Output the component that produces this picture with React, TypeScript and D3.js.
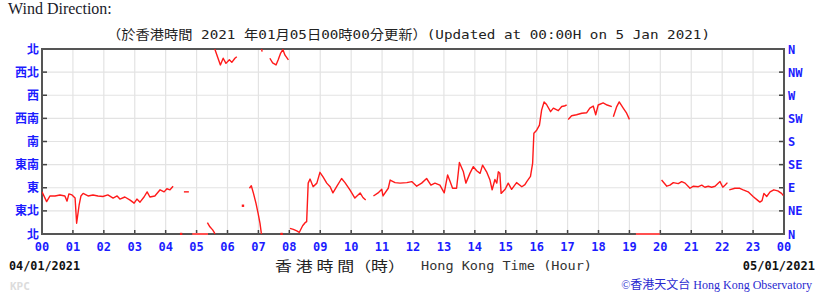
import React from "react";
import * as d3 from "d3";

// ---- data (hours since 00:00 04/01/2021, wind direction in degrees; null = gap) ----
const windHours: (number | null)[] = [
  0, 0.15, 0.26, 0.42, 0.58, 0.74, 0.81, 0.87, 0.97, 1.07, 1.12, 1.2, 1.26, 1.33, 1.49, 1.65, 1.81, 1.97,
  2.13, 2.3, 2.43, 2.52, 2.68, 2.85, 2.98, 3.07, 3.17, 3.3, 3.4, 3.49, 3.65, 3.82, 3.95, 4.04, 4.14, 4.24, null,
  4.59, 4.75, null,
  5.35, 5.43, 5.52, 5.58, 5.6, 5.77, 5.86, 5.95, 6.06, 6.14, 6.24, 6.3, null,
  6.5, null,
  6.71, 6.77, 6.84, 6.92, 6.99, 7.05, 7.09, 7.12, null,
  7.37, 7.46, 7.57, 7.64, 7.72, 7.79, 7.86, 7.97, null,
  8.02, 8.13, 8.24, 8.32, 8.43, 8.51, 8.56, 8.61, 8.67, 8.77, 8.89, 8.99, 9.09, 9.21, 9.32, 9.41, 9.53, 9.69,
  9.8, 9.96, 10.12, 10.29, 10.38, 10.47, null,
  10.72, 10.87, 10.99, 11.03, 11.2, 11.26, 11.42, 11.58, 11.8, 11.96, 12.12, 12.28, 12.44, 12.58, 12.71, 12.87,
  13.01, 13.12, 13.2, 13.28, 13.41, 13.5, 13.63, 13.71, 13.84, 13.95, 14.06, 14.17, 14.25, 14.38, 14.49, 14.56,
  14.65, 14.71, 14.76, 14.81, 14.85, 14.98, 15.08, 15.19, 15.35, 15.52, 15.62, 15.68, 15.8, 15.87, 15.91, 16.0,
  16.09, 16.16, 16.24, 16.32, 16.45, 16.54, 16.7, 16.81, 16.89, 16.97, null,
  17.02, 17.13, 17.29, 17.46, 17.62, 17.72, 17.83, 17.91, 17.99, 18.15, 18.28, 18.43, null,
  18.48, 18.59, 18.67, 18.8, 18.91, 19.0, null,
  20.04, 20.21, 20.31, 20.42, 20.58, 20.69, 20.8, 20.96, 21.07, 21.23, 21.34, 21.44, 21.55, 21.66, 21.77, 21.93,
  22.02, 22.09, 22.17, null,
  22.23, 22.41, 22.57, 22.68, 22.84, 23.0, 23.16, 23.22, 23.29, 23.35, 23.44, 23.55, 23.67, 23.8, 23.92, 23.98,
];

const windDirs: (number | null)[] = [
  82, 63, 74, 74, 76, 74, 64, 78, 76, 70, 21, 56, 74, 79, 74, 76, 74, 73,
  76, 70, 74, 68, 72, 66, 60, 68, 62, 72, 82, 72, 74, 86, 82, 88, 86, 93, null,
  82, 82, null,
  22, 14, 8, 2, 358, 329, 342, 332, 339, 334, 342, 345, null,
  55, null,
  89, 94, 79, 60, 40, 21, 3, 355, null,
  342, 333, 329, 339, 352, 359, 348, 339, null,
  11, 9, 6, 3, 16, 22, 24, 99, 107, 92, 99, 120, 111, 99, 92, 80, 92, 108,
  100, 86, 70, 80, 71, 66, null,
  74, 80, 87, 74, 89, 105, 100, 99, 100, 102, 93, 99, 108, 95, 99, 95,
  80, 115, 102, 89, 89, 139, 121, 99, 118, 131, 123, 118, 134, 121, 105, 86,
  106, 99, 121, 118, 79, 87, 99, 87, 100, 92, 96, 102, 112, 138, 196, 202,
  212, 241, 257, 252, 238, 245, 240, 248, 249, 251, null,
  223, 230, 232, 235, 236, 245, 249, 232, 251, 255, 251, 248, null,
  228, 248, 257, 245, 235, 223, null,
  105, 93, 95, 100, 98, 102, 99, 89, 93, 92, 95, 91, 93, 91, 93, 102,
  91, 95, 100, null,
  86, 89, 89, 86, 82, 73, 65, 62, 65, 79, 73, 82, 86, 84, 79, 75,
];

// calm periods (plotted on the 0° line)
const calmStart = [4.5, 4.86, 7.75, 19.21];
const calmEnd = [4.5, 5.37, 7.75, 19.98];

const hourLabels = [
  "00", "01", "02", "03", "04", "05", "06", "07", "08", "09", "10", "11",
  "12", "13", "14", "15", "16", "17", "18", "19", "20", "21", "22", "23", "00",
];
const dirDegrees = [0, 45, 90, 135, 180, 225, 270, 315, 360];
const dirLabelsZh = ["北", "東北", "東", "東南", "南", "西南", "西", "西北", "北"];
const dirLabelsEn = ["N", "NE", "E", "SE", "S", "SW", "W", "NW", "N"];

const W = 820;
const H = 297;
const L = 42, R = 784, T = 49, B = 234;

type P = [number, number];

function buildSegments(): P[][] {
  const segs: P[][] = [];
  let cur: P[] = [];
  for (let i = 0; i < windHours.length; i++) {
    const h = windHours[i];
    const v = windDirs[i];
    if (h == null || v == null) {
      if (cur.length) segs.push(cur);
      cur = [];
    } else cur.push([h, v]);
  }
  if (cur.length) segs.push(cur);
  return segs;
}

function splitWrap(seg: P[]): P[][] {
  const pieces: P[][] = [];
  let cur: P[] = [seg[0]];
  for (let i = 1; i < seg.length; i++) {
    const p = seg[i - 1];
    const q = seg[i];
    if (q[1] - p[1] > 180) {
      const qv = q[1] - 360;
      const t = p[1] / (p[1] - qv);
      const hm = p[0] + t * (q[0] - p[0]);
      cur.push([hm, 0]);
      pieces.push(cur);
      cur = [[hm, 360], q];
    } else if (p[1] - q[1] > 180) {
      const qv = q[1] + 360;
      const t = (360 - p[1]) / (qv - p[1]);
      const hm = p[0] + t * (q[0] - p[0]);
      cur.push([hm, 360]);
      pieces.push(cur);
      cur = [[hm, 0], q];
    } else cur.push(q);
  }
  pieces.push(cur);
  return pieces;
}

export default function App() {
  const x = d3.scaleLinear().domain([0, 24]).range([L, R]);
  const y = d3.scaleLinear().domain([0, 360]).range([B, T]);
  const line = d3
    .line<P>()
    .x((d) => x(d[0]))
    .y((d) => y(d[1]));

  const segs = buildSegments();
  const hours = d3.range(0, 25);
  const blue = "#1c1cff";

  return (
    <svg
      width={W}
      height={H}
      style={{ position: "absolute", left: 0, top: 0, background: "#fff" }}
    >
      <defs>
        <clipPath id="plotClip">
          <rect x={L} y={T - 1} width={R - L} height={B - T + 2} />
        </clipPath>
      </defs>

      <text x={8} y={14} fontFamily="'Liberation Serif', 'Times New Roman', serif" fontSize={16} fill="#1a1a2a">
        Wind Direction:
      </text>
      <text
        x={107}
        y={39}
        fontFamily="'DejaVu Sans Mono', 'Noto Sans CJK TC', monospace"
        fontSize={13}
        fill="#222"
        textLength={603}
        lengthAdjust="spacingAndGlyphs"
      >
        （於香港時間 2021 年01月05日00時00分更新）(Updated at 00:00H on 5 Jan 2021)
      </text>

      {/* grid */}
      {hours.slice(1, 24).map((h) => (
        <line key={"gv" + h} x1={x(h)} x2={x(h)} y1={T} y2={B} stroke="#e3e3e3" strokeWidth={1.2} />
      ))}
      {dirDegrees.slice(1, 8).map((d) => (
        <line key={"gh" + d} x1={L} x2={R} y1={y(d)} y2={y(d)} stroke="#e3e3e3" strokeWidth={1.2} />
      ))}

      {/* ticks */}
      {dirDegrees.slice(1, 8).map((d) => (
        <g key={"t" + d}>
          <line x1={L} x2={L + 5} y1={y(d)} y2={y(d)} stroke="#444" strokeWidth={1.5} />
          <line x1={R - 5} x2={R} y1={y(d)} y2={y(d)} stroke="#444" strokeWidth={1.5} />
        </g>
      ))}
      {hours.slice(1, 24).map((h) => (
        <line key={"tb" + h} x1={x(h)} x2={x(h)} y1={B} y2={B - 4} stroke="#444" strokeWidth={1.5} />
      ))}

      {/* frame */}
      <rect x={L} y={T} width={R - L} height={B - T} fill="none" stroke="#555" strokeWidth={2} />

      {/* data */}
      <g clipPath="url(#plotClip)">
        {segs.map((seg, i) =>
          seg.length === 1 ? (
            <rect
              key={"d" + i}
              x={x(seg[0][0]) - 1.2}
              y={y(seg[0][1]) - 1.2}
              width={2.4}
              height={2.4}
              fill="#ff1a1a"
            />
          ) : (
            splitWrap(seg).map((pc, j) => (
              <path key={"s" + i + "_" + j} d={line(pc) || ""} fill="none" stroke="#ff1a1a" strokeWidth={1.4} strokeLinejoin="round" />
            ))
          )
        )}
        {calmStart.map((s, i) =>
          s === calmEnd[i] ? (
            <rect key={"c" + i} x={x(s) - 1.2} y={y(0) - 1.2} width={2.4} height={2.4} fill="#ff1a1a" />
          ) : (
            <line key={"c" + i} x1={x(s)} x2={x(calmEnd[i])} y1={y(0)} y2={y(0)} stroke="#ff5050" strokeWidth={2} />
          )
        )}
      </g>

      {/* axis labels */}
      {dirDegrees.map((d, i) => (
        <text
          key={"zl" + i}
          x={39}
          y={y(d) + 4.5}
          textAnchor="end"
          fontFamily="'Noto Sans CJK TC', sans-serif"
          fontWeight="bold"
          fontSize={12}
          fill={blue}
        >
          {dirLabelsZh[i]}
        </text>
      ))}
      {dirDegrees.map((d, i) => (
        <text
          key={"el" + i}
          x={788}
          y={y(d) + 4.5}
          fontFamily="'DejaVu Sans Mono', monospace"
          fontWeight="bold"
          fontSize={12}
          fill={blue}
        >
          {dirLabelsEn[i]}
        </text>
      ))}
      {hours.map((h) => (
        <text
          key={"hl" + h}
          x={x(h)}
          y={251}
          textAnchor="middle"
          fontFamily="'DejaVu Sans Mono', monospace"
          fontWeight="bold"
          fontSize={12}
          fill={blue}
        >
          {hourLabels[h]}
        </text>
      ))}

      <text x={9} y={269.5} fontFamily="'DejaVu Sans Mono', monospace" fontWeight="bold" fontSize={12} fill="#111" textLength={71} lengthAdjust="spacingAndGlyphs">
        04/01/2021
      </text>
      <text x={815} y={269.5} textAnchor="end" fontFamily="'DejaVu Sans Mono', monospace" fontWeight="bold" fontSize={12} fill="#111">
        05/01/2021
      </text>
      <text x={275} y={271} fontFamily="'Noto Sans CJK TC', serif" fontSize={14} fill="#222" textLength={130} lengthAdjust="spacingAndGlyphs">
        香 港 時 間（時）
      </text>
      <text x={421} y={270} fontFamily="'DejaVu Sans Mono', monospace" fontSize={13} fill="#333" textLength={171} lengthAdjust="spacingAndGlyphs">
        Hong Kong Time (Hour)
      </text>
      <text x={10} y={290} fontFamily="'DejaVu Sans Mono', monospace" fontWeight="bold" fontSize={11} fill="#dcdcdc">
        KPC
      </text>
      <text x={812} y={289} textAnchor="end" fontFamily="'Liberation Serif', 'Noto Sans CJK TC', serif" fontSize={12} fill="#2a2ad0">
        ©香港天文台 Hong Kong Observatory
      </text>
    </svg>
  );
}
